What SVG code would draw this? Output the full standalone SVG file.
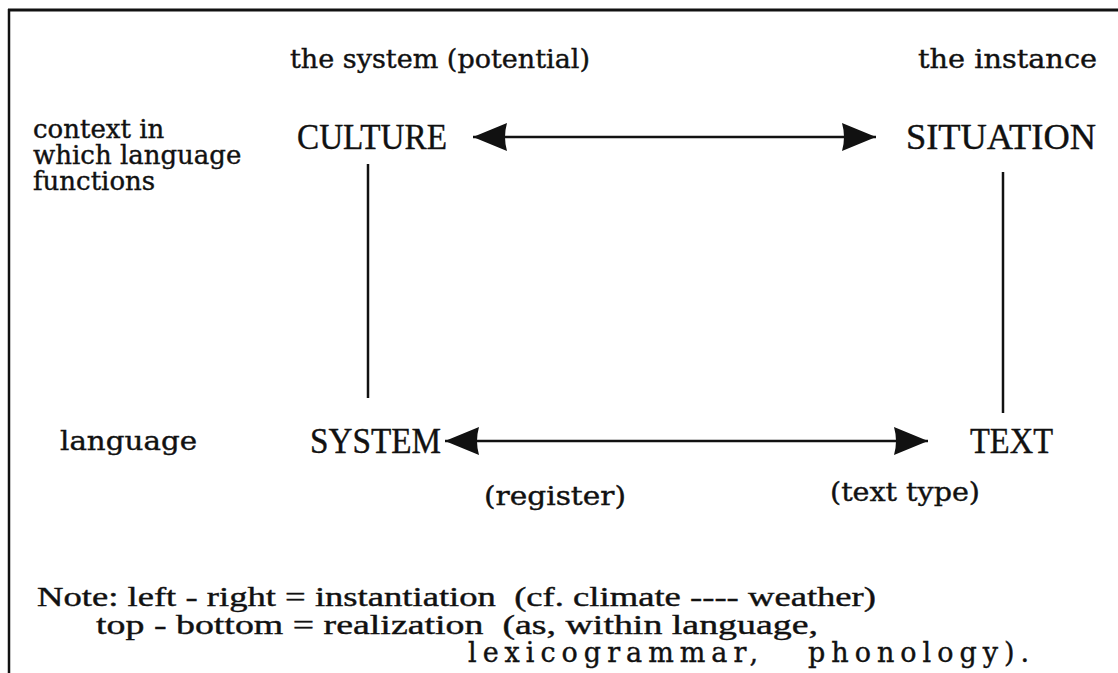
<svg xmlns="http://www.w3.org/2000/svg" width="1118" height="673" viewBox="0 0 1118 673">
  <style>
    text { stroke: #111; stroke-width: 0.4; }
    .caps { font-family: "Liberation Serif", "Times New Roman", serif; font-size: 35px; fill: #111; }
    .lbl  { font-family: "DejaVu Serif", "Liberation Serif", serif; font-size: 26px; fill: #111; }
    .note { font-family: "Liberation Serif", "Times New Roman", serif; font-size: 28px; fill: #111; }
    .spaced { font-family: "DejaVu Serif", "Liberation Serif", serif; font-size: 27px; letter-spacing: 6px; fill: #111; }
    .rule { stroke: #111; fill: none; }
  </style>
  <defs>
    <marker id="head" viewBox="0 0 34 30" refX="34" refY="15" markerWidth="34" markerHeight="30" markerUnits="userSpaceOnUse" orient="auto-start-reverse">
      <path d="M0,1 Q4,15 0,29 L34,15 Z" fill="#111"/>
    </marker>
  </defs>

  <rect width="1118" height="673" fill="#fff"/>

  <!-- frame: top rule and left rule only -->
  <g id="frame" class="rule">
    <line x1="8" y1="10" x2="1118" y2="10" stroke-width="3"/>
    <line x1="9" y1="9" x2="9" y2="673" stroke-width="2.5"/>
  </g>

  <!-- column and row headings -->
  <g id="headings">
    <text class="lbl" x="290" y="68" textLength="300" lengthAdjust="spacingAndGlyphs">the system (potential)</text>
    <text class="lbl" x="918" y="68" textLength="179" lengthAdjust="spacingAndGlyphs">the instance</text>
    <text class="lbl" x="33" y="138">context in<tspan x="33" y="164">which language</tspan><tspan x="33" y="190">functions</tspan></text>
    <text class="lbl" x="60" y="450" textLength="137" lengthAdjust="spacingAndGlyphs">language</text>
  </g>

  <g id="culture"><text class="caps" x="297" y="149" textLength="150" lengthAdjust="spacingAndGlyphs">CULTURE</text></g>
  <g id="situation"><text class="caps" x="906" y="149" textLength="190" lengthAdjust="spacingAndGlyphs">SITUATION</text></g>
  <g id="system"><text class="caps" x="310" y="453" textLength="131" lengthAdjust="spacingAndGlyphs">SYSTEM</text></g>
  <g id="text"><text class="caps" x="970" y="453" textLength="83" lengthAdjust="spacingAndGlyphs">TEXT</text></g>

  <!-- connectors -->
  <g id="connectors" class="rule" stroke-width="2.5">
    <line x1="473" y1="137" x2="876" y2="137" marker-start="url(#head)" marker-end="url(#head)"/>
    <line x1="445" y1="441" x2="928" y2="441" marker-start="url(#head)" marker-end="url(#head)"/>
    <line x1="368" y1="164" x2="368" y2="398"/>
    <line x1="1003" y1="172" x2="1003" y2="413"/>
  </g>

  <g id="arrow-labels">
    <text class="lbl" x="484" y="505" textLength="142" lengthAdjust="spacingAndGlyphs">(register)</text>
    <text class="lbl" x="830" y="501" textLength="150" lengthAdjust="spacingAndGlyphs">(text type)</text>
  </g>

  <g id="note">
    <text class="note" x="37" y="606" textLength="839" lengthAdjust="spacingAndGlyphs" xml:space="preserve">Note: left - right = instantiation  (cf. climate ---- weather)</text>
    <text class="note" x="96" y="634" textLength="722" lengthAdjust="spacingAndGlyphs" xml:space="preserve">top - bottom = realization  (as, within language,</text>
    <text class="spaced" x="468" y="662">lexicogrammar,<tspan x="808">phonology).</tspan></text>
  </g>
</svg>
